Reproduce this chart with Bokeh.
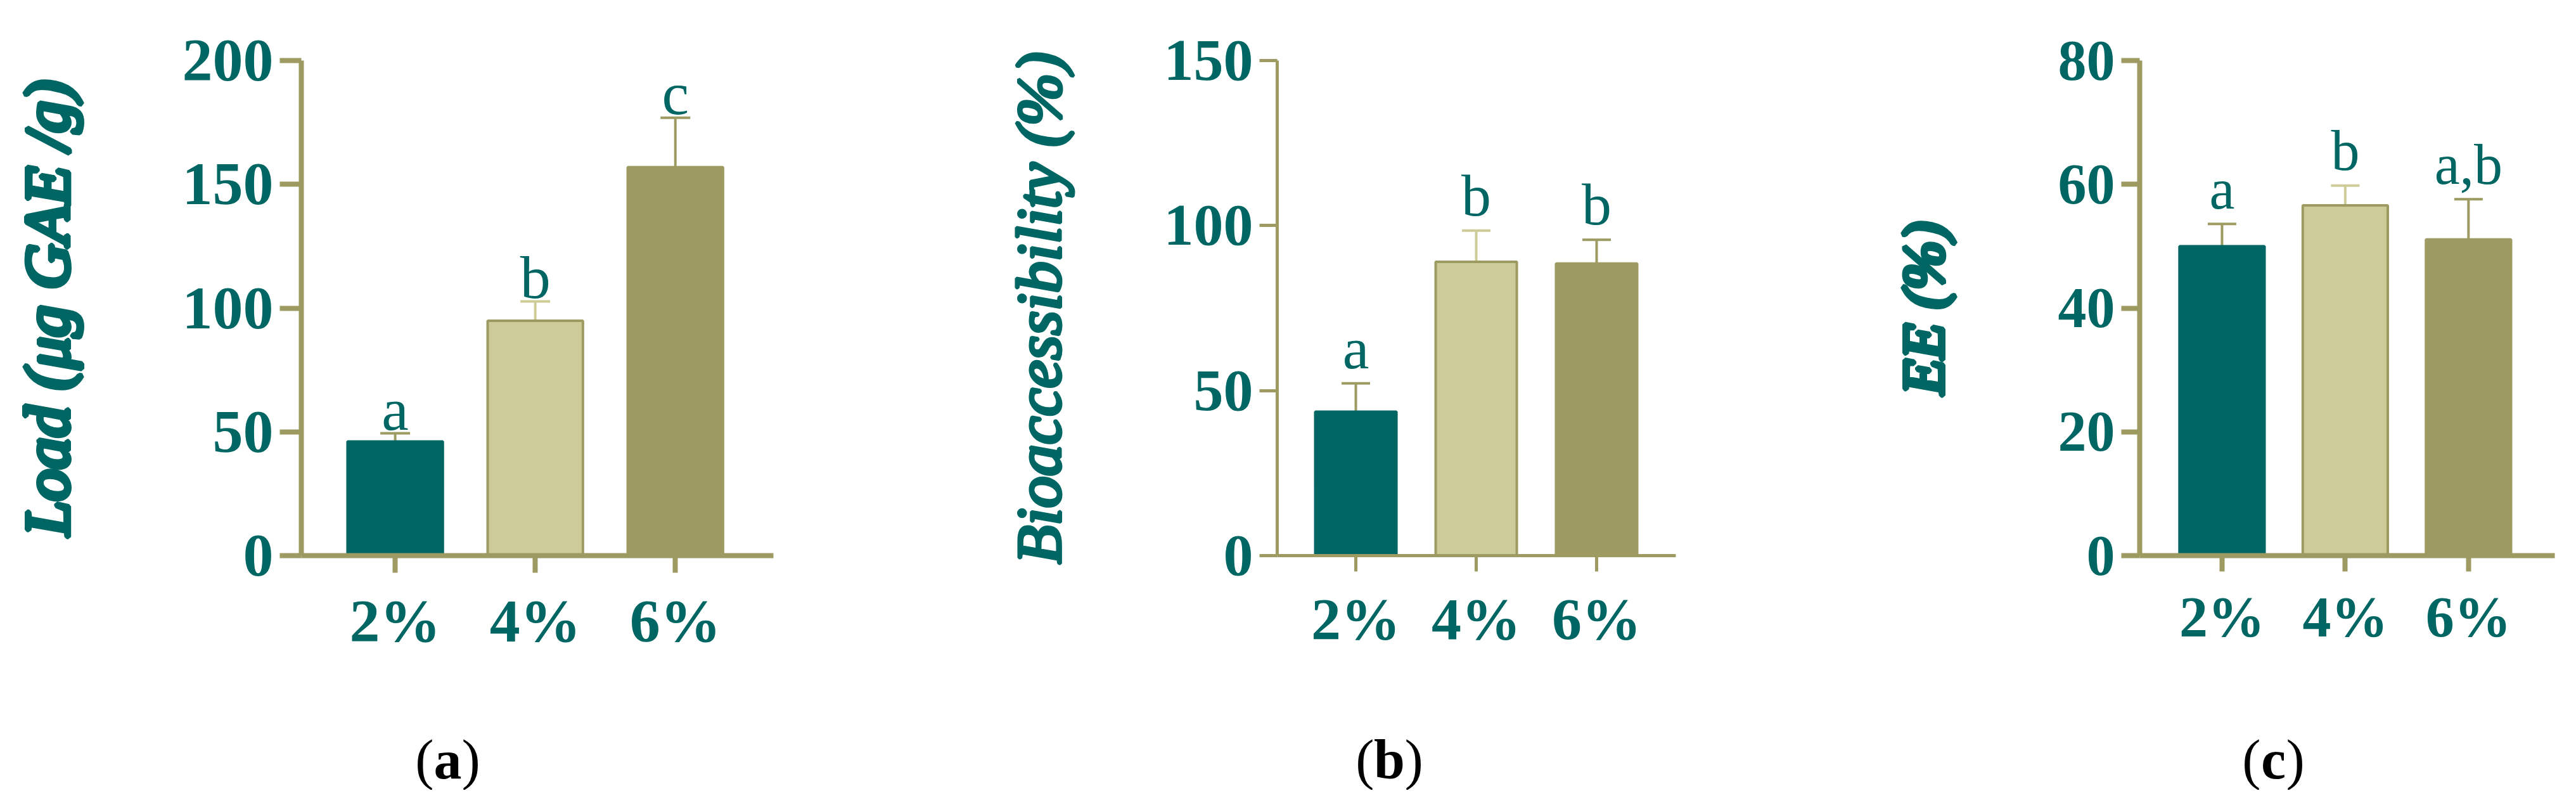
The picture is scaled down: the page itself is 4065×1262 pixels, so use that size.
from bokeh.plotting import figure
from bokeh.models import Range1d, FixedTicker
from bokeh.layouts import row, column
from bokeh.embed import file_html
from bokeh.resources import INLINE
from bokeh.core.properties import value

# ---------------- data ----------------
categories = ["2%", "4%", "6%"]

load_mean = [46.1, 94.9, 156.9]
load_err = [3.3, 7.8, 20.0]
load_letters = ["a", "b", "c"]

bio_mean = [43.6, 89.0, 88.5]
bio_err = [8.6, 9.5, 7.2]
bio_letters = ["a", "b", "b"]

ee_mean = [50.0, 56.6, 51.1]
ee_err = [3.6, 3.2, 6.5]
ee_letters = ["a", "b", "a,b"]

load_ticks = [0, 50, 100, 150, 200]
bio_ticks = [0, 50, 100, 150]
ee_ticks = [0, 20, 40, 60, 80]

panel_tags = ["a", "b", "c"]

# ---------------- style ----------------
TEAL = "#006663"
LIGHT = "#CDCC98"
OLIVE = "#9D9A62"
FILL = [TEAL, LIGHT, OLIVE]
EDGE = [TEAL, OLIVE, OLIVE]
ERRC = [OLIVE, LIGHT, OLIVE]
FONT = "Liberation Serif"
PLOT_H = 1106
CAP_H = 140


def panel(mean, err, letters, ticks, ylabel, cfg):
    xs = list(range(1, len(categories) + 1))
    tops = [m + e for m, e in zip(mean, err)]
    p = figure(width=cfg["width"], height=PLOT_H, output_backend="svg",
               toolbar_location=None,
               min_border_left=cfg["bl"], min_border_right=cfg["br"],
               min_border_top=cfg["bt"], min_border_bottom=PLOT_H - cfg["bt"] - cfg["fh"],
               x_range=Range1d(1 - cfg["padl"], len(categories) + cfg["padr"]),
               y_range=Range1d(ticks[0], ticks[-1]))
    p.background_fill_color = "white"
    p.border_fill_color = "white"
    p.outline_line_color = None
    p.xgrid.visible = False
    p.ygrid.visible = False

    # error bars (upper only)
    p.segment(x0=xs, y0=mean, x1=xs, y1=tops, line_color=ERRC, line_width=4)
    p.scatter(x=xs, y=tops, marker="dash", size=cfg["cap"], line_color=ERRC,
              line_width=4)
    # bars
    p.vbar(x=xs, top=mean, bottom=0, width=cfg["bw"], fill_color=FILL,
           line_color=EDGE, line_width=4)
    # significance letters
    p.text(x=xs, y=tops, text=letters, text_font=value(FONT),
           text_font_size=cfg["fs"], text_color=TEAL, text_align="center",
           text_baseline="alphabetic", y_offset=-cfg["lgap"])

    for ax in (p.xaxis[0], p.yaxis[0]):
        ax.axis_line_color = OLIVE
        ax.axis_line_width = cfg["lw"]
        ax.major_tick_line_color = OLIVE
        ax.major_tick_line_width = cfg["lw"]
        ax.major_tick_in = 0
        ax.minor_tick_line_color = None
        ax.major_label_text_font = FONT
        ax.major_label_text_font_style = "bold"
        ax.major_label_text_color = TEAL
        ax.major_label_text_font_size = cfg["fs"]
    yax = p.yaxis[0]
    yax.ticker = FixedTicker(ticks=ticks)
    yax.major_tick_out = cfg["yto"]
    yax.major_label_standoff = 10
    yax.axis_label = ylabel
    yax.axis_label_text_font = FONT
    yax.axis_label_text_font_style = "italic"
    yax.axis_label_text_font_size = cfg["lfs"]
    yax.axis_label_text_color = TEAL
    yax.axis_label_standoff = cfg["lso"]
    if "axis_label_text_outline_color" in yax.properties():
        yax.axis_label_text_outline_color = TEAL
    p.xaxis.ticker = FixedTicker(ticks=xs)
    p.xaxis.major_label_overrides = {x: c for x, c in zip(xs, categories)}
    p.xaxis.major_tick_out = cfg["xto"]
    p.xaxis.major_label_standoff = 22
    return p


cfg_a = dict(width=1552, bl=475, br=332, bt=75, fh=819,
             padl=0.67, padr=0.70, bw=0.68, cap=47, fs="96px", lfs="100px",
             lw=8, yto=34, xto=27, lgap=38, lso=155)
cfg_b = dict(width=1400, bl=463, br=308, bt=84, fh=809,
             padl=0.653, padr=0.658, bw=0.674, cap=45, fs="94px", lfs="100px",
             lw=5, yto=28, xto=25, lgap=56, lso=139)
cfg_c = dict(width=1097, bl=424, br=18, bt=95, fh=781,
             padl=0.668, padr=0.70, bw=0.69, cap=45, fs="90px", lfs="92px",
             lw=8, yto=29, xto=25, lgap=55, lso=159)

pa = panel(load_mean, load_err, load_letters, load_ticks, "Load (μg GAE /g)", cfg_a)
pb = panel(bio_mean, bio_err, bio_letters, bio_ticks, "Bioaccessibility (%)", cfg_b)
pc = panel(ee_mean, ee_err, ee_letters, ee_ticks, "EE (%)", cfg_c)

# ---------------- captions (a), (b), (c) ----------------
total_w = cfg_a["width"] + cfg_b["width"] + cfg_c["width"]
cap = figure(width=total_w, height=CAP_H, output_backend="svg", toolbar_location=None,
             x_range=Range1d(0, total_w), y_range=Range1d(0, CAP_H),
             min_border_left=0, min_border_right=0, min_border_top=0, min_border_bottom=0)
cap.axis.visible = False
cap.grid.visible = False
cap.outline_line_color = None
cap.background_fill_color = "white"
cap.border_fill_color = "white"
cap_x = [706, 2192, 3587]
cap_y = [48, 48, 48]
half = [22, 24, 20]
cap.text(x=cap_x, y=cap_y, text=panel_tags, text_font=value(FONT), text_font_style="bold",
         text_font_size="88px", text_color="black", text_align="center",
         text_baseline="alphabetic")
cap.text(x=cap_x, y=cap_y, text=["("] * 3, text_font=value(FONT), text_font_size="88px",
         text_color="black", text_align="right", text_baseline="alphabetic",
         x_offset=[-h for h in half])
cap.text(x=cap_x, y=cap_y, text=[")"] * 3, text_font=value(FONT), text_font_size="88px",
         text_color="black", text_align="left", text_baseline="alphabetic",
         x_offset=half)

layout = column(row(pa, pb, pc, spacing=0), cap, spacing=0)
open("out.html", "w").write(file_html(layout, INLINE))
